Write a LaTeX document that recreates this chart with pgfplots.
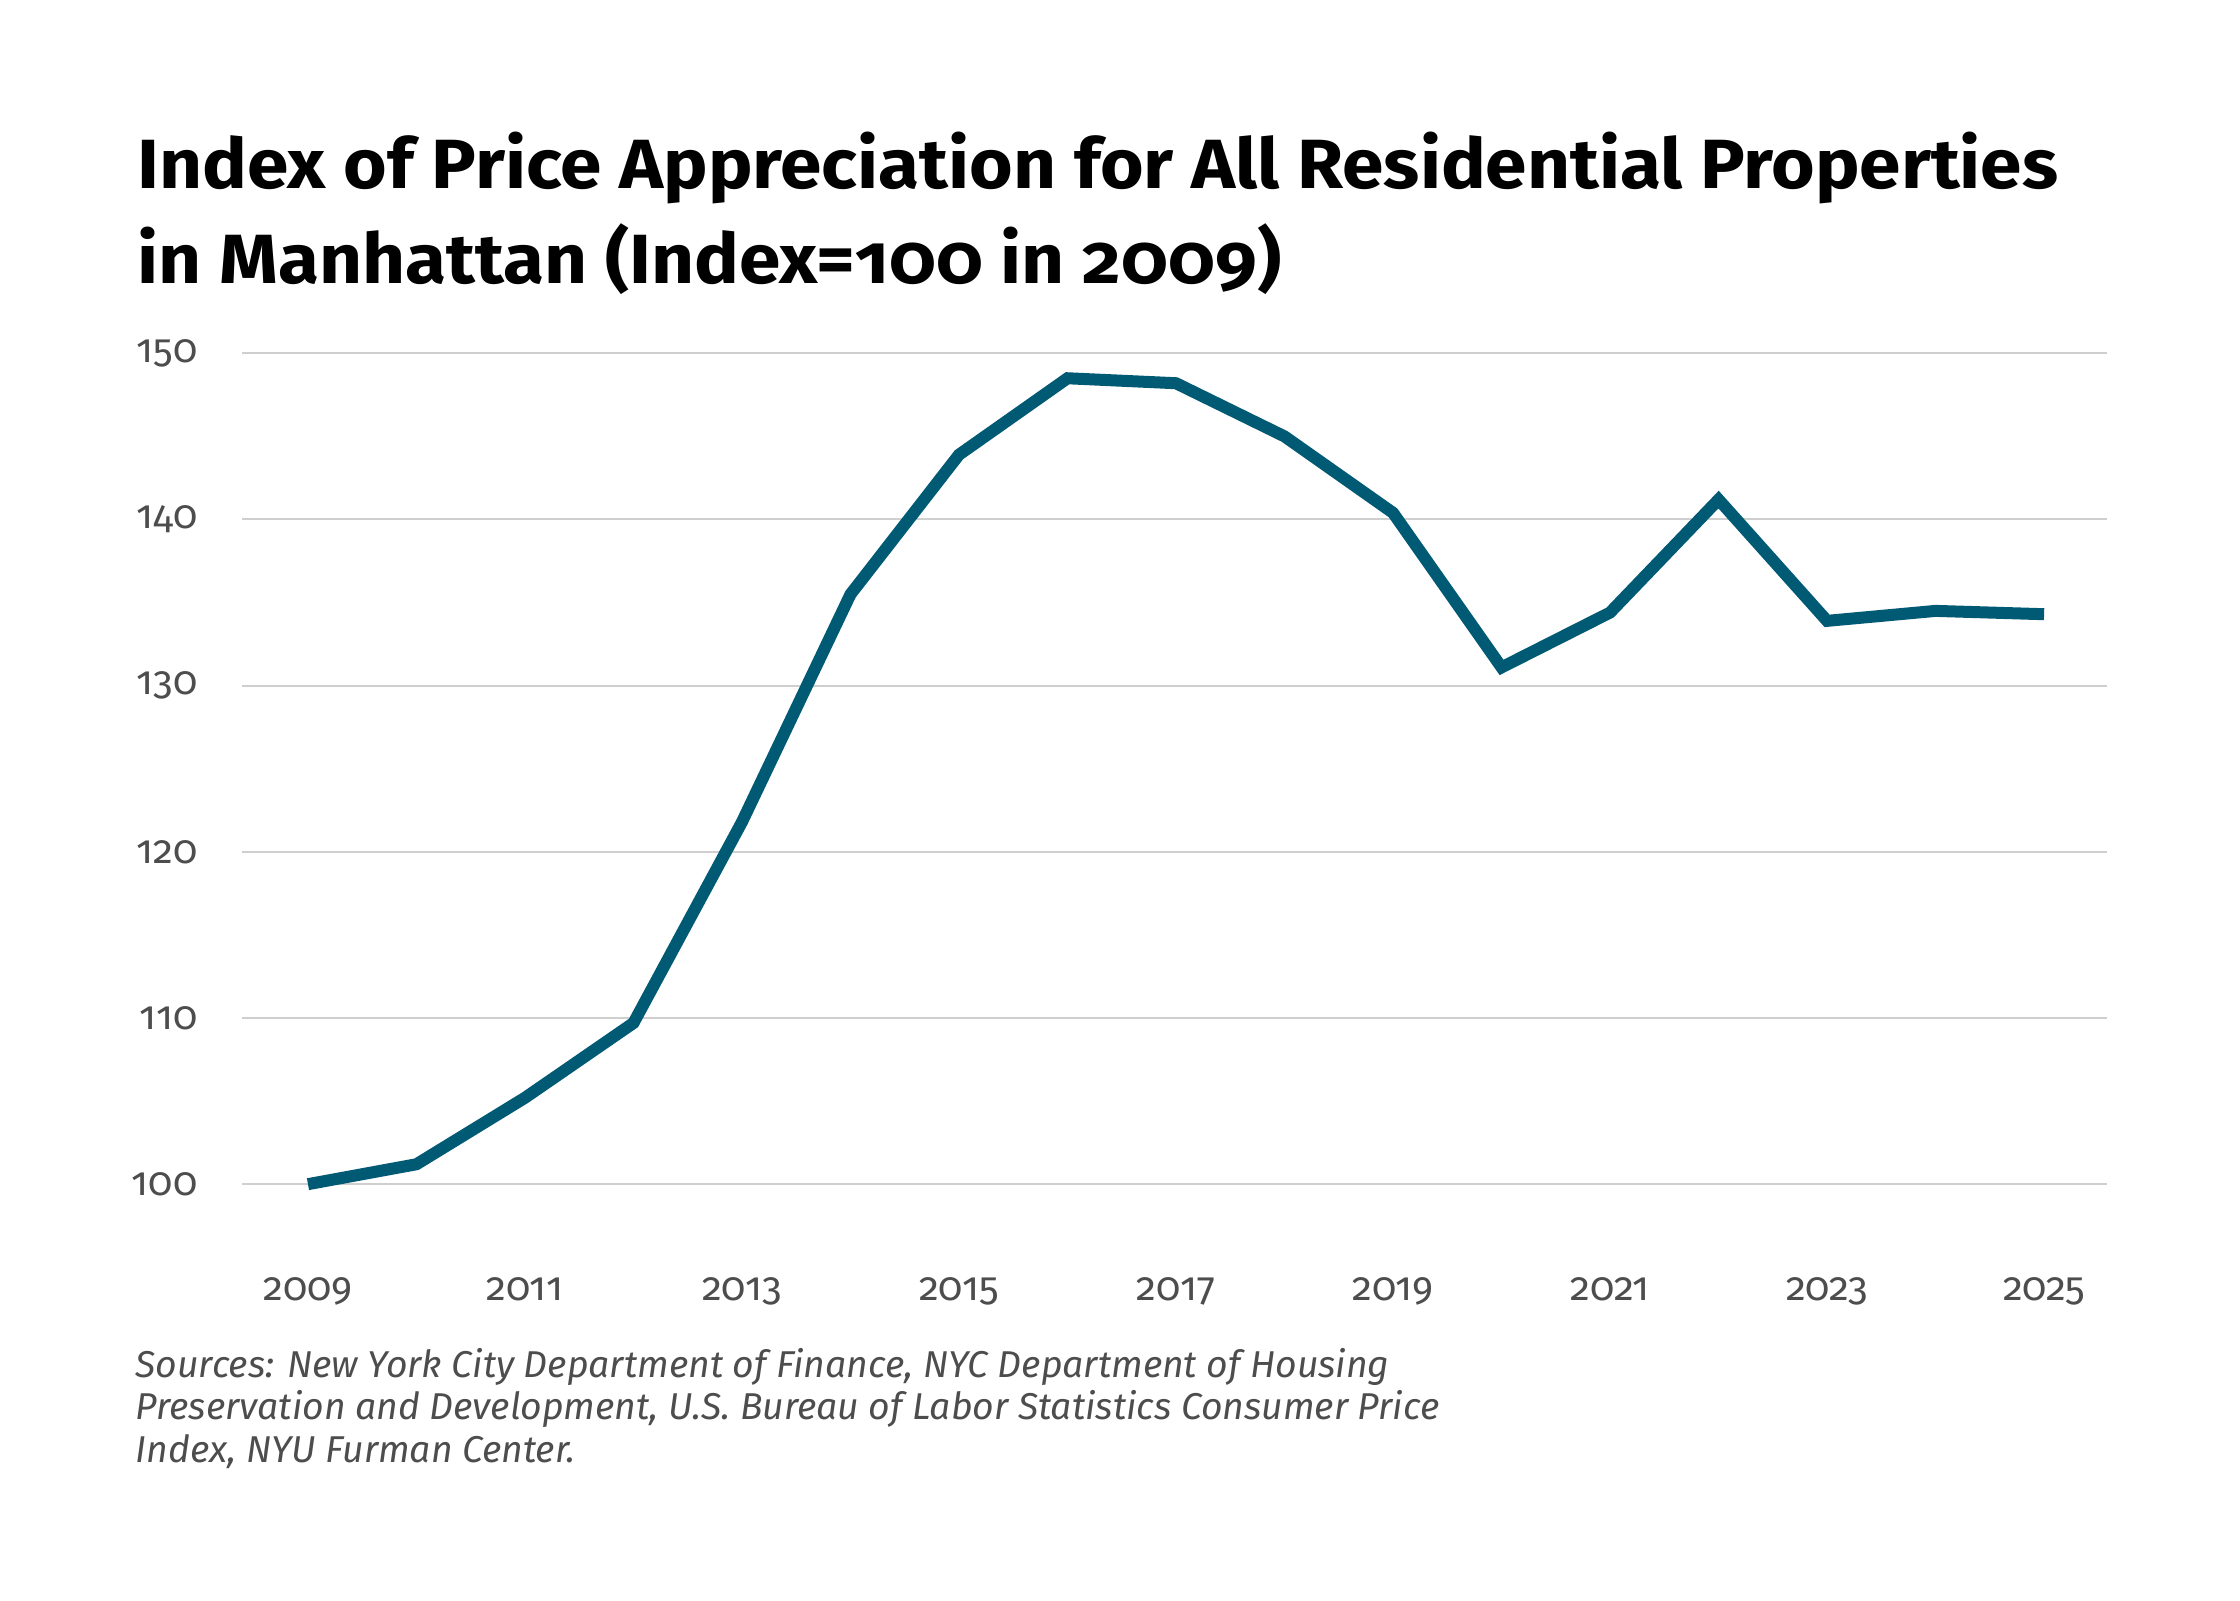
\documentclass[border=0pt]{standalone}
\usepackage{pgfplots}
\pgfplotsset{compat=1.18}
\usepackage{fontspec}
\setmainfont{Fira Sans}[Numbers=OldStyle]
\newfontfamily\titlefont{Fira Sans}[Numbers=OldStyle, FakeStretch=1.073]
\definecolor{linec}{HTML}{005A74}
\definecolor{gridc}{HTML}{CFCFCF}
\definecolor{labc}{HTML}{4D4D4D}
\begin{document}
\begin{tikzpicture}[x=1pt,y=1pt]
\useasboundingbox[fill=white] (0,0) rectangle (672,480);
\begin{axis}[
  at={(72.6pt,107.3pt)}, anchor=south west,
  scale only axis, width=559.5pt, height=269.2pt,
  xmin=2008.392, xmax=2025.58, ymin=96.5, ymax=150.5,
  axis line style={draw=none},
  major tick length=0pt,
  xtick={2009,2011,...,2025},
  ytick={100,110,...,150},
  ymajorgrids, grid style={gridc, line width=0.6pt},
  /pgf/number format/1000 sep={},
  /pgf/number format/assume math mode=true,
  tick label style={font=\fontsize{12}{14}\selectfont, text=labc, inner sep=0pt},
  xticklabel style={anchor=base, yshift=-17.3pt},
  yticklabel style={anchor=east, xshift=-13.2pt},
  clip=false,
]
\addplot[linec, line width=3.6pt, line join=miter] table {
x y
2009 100.0
2010 101.2
2011 105.2
2012 109.7
2013 121.8
2014 135.5
2015 143.9
2016 148.5
2017 148.2
2018 145.0
2019 140.4
2020 131.1
2021 134.4
2022 141.2
2023 133.9
2024 134.5
2025 134.3
};
\end{axis}
\node[anchor=base west, inner sep=0pt, font=\titlefont\bfseries\fontsize{20.9}{25}\selectfont] at (41.1,423.3) {Index of Price Appreciation for All Residential Properties};
\node[anchor=base west, inner sep=0pt, font=\titlefont\bfseries\fontsize{20.9}{25}\selectfont] at (41.1,394.8) {in Manhattan (Index=100 in 2009)};
\node[anchor=base west, inner sep=0pt, text=labc, font=\itshape\fontsize{11.2}{13}\selectfont] at (40.5,66.9) {Sources: New York City Department of Finance, NYC Department of Housing};
\node[anchor=base west, inner sep=0pt, text=labc, font=\itshape\fontsize{11.2}{13}\selectfont] at (40.5,54.2) {Preservation and Development, U.S. Bureau of Labor Statistics Consumer Price};
\node[anchor=base west, inner sep=0pt, text=labc, font=\itshape\fontsize{11.2}{13}\selectfont] at (40.5,41.4) {Index, NYU Furman Center.};
\end{tikzpicture}
\end{document}
